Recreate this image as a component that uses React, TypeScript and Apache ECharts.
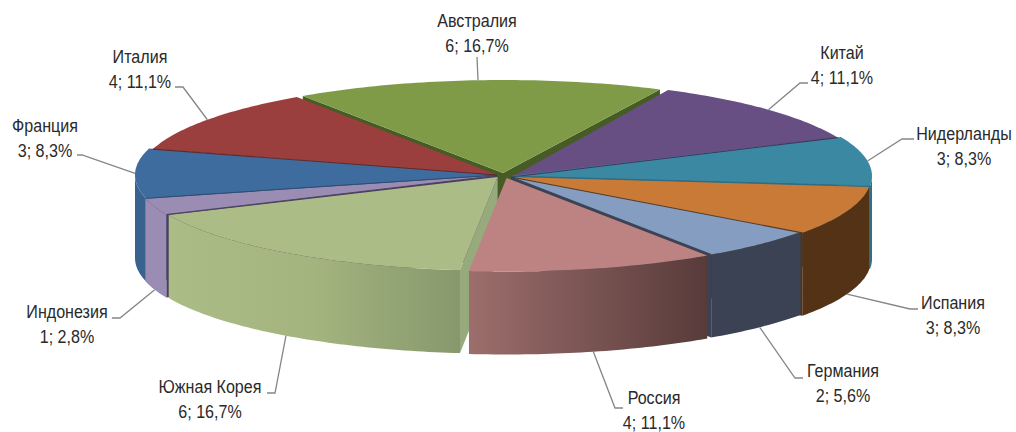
import React, { useEffect, useRef } from "react";
import * as echarts from "echarts";

const COUNTRIES = ["Австралия", "Китай", "Нидерланды", "Испания", "Германия", "Россия", "Южная Корея", "Индонезия", "Франция", "Италия"];
const COUNTS = [6, 4, 3, 3, 2, 4, 6, 1, 3, 4];

// Presentation
const TOP_COLORS = ["#7f9b47", "#674f83", "#3b88a2", "#c97a37", "#859dc1", "#bd8282", "#abbc87", "#9b8cb3", "#3f6c9e", "#9a3f3d"];
const SIDE_COLORS = ["#465c24", "#3f2d55", "#2f6e84", "#533215", "#3a4254", "#57393a", "#96aa7c", "#4a3f5e", "#2c4d73", "#632523"];
const WALL_COLORS: (string | [string, string, string])[] = [
  "#465c24", "#3f2d55", "#2f6e84", "#533215", "#3a4254",
  ["#9c6e6c", "#7a5453", "#573b3a"],
  ["#abbc87", "#a3b47f", "#87986c"],
  "#9b8cb3", "#38638f", "#632523",
];
// centre x, centre y, radius x, radius y of each exploded slice
const FRAMES = [
  [503, 173, 358, 93], [511.6, 177, 357, 96.8], [511, 176, 361, 96], [511, 177, 360, 95], [511, 177, 358, 93.5],
  [506.5, 178, 359, 93.5], [497.6, 177, 360, 93.6], [497, 175.5, 362, 96], [497, 175, 362, 96], [497, 175, 358, 94],
];
// elbow point next to the label, then the label's centre
const LABEL_LAYOUT = [
  { elbow: [477, 57], end: [477, 57], cx: 477, y: 21 },
  { elbow: [800, 83], end: [808, 83], cx: 842, y: 53 },
  { elbow: [902, 139], end: [914, 139], cx: 964, y: 134 },
  { elbow: [910, 309], end: [918, 309], cx: 953, y: 303 },
  { elbow: [795, 378], end: [803, 378], cx: 843, y: 371 },
  { elbow: [615, 408], end: [623, 408], cx: 654, y: 398 },
  { elbow: [275, 393], end: [267, 393], cx: 210, y: 387 },
  { elbow: [120, 318], end: [112, 318], cx: 67, y: 312 },
  { elbow: [82, 155], end: [77, 155], cx: 45, y: 126 },
  { elbow: [183, 87], end: [175, 87], cx: 140, y: 57 },
];
const DRAW_ORDER = [0, 1, 9, 2, 8, 3, 7, 4, 6, 5];
const START_ANGLE = -124;
const DEPTH = 83;
const LINE_GAP = 24.5;

const TOTAL = COUNTS.reduce((a, b) => a + b, 0);
const RAD = Math.PI / 180;
const formatLine = (v: number) => `${v}; ${((v / TOTAL) * 100).toFixed(1).replace(".", ",")}%`;

function sliceAngles(i: number) {
  const before = COUNTS.slice(0, i).reduce((a, b) => a + b, 0);
  const a0 = START_ANGLE + (before / TOTAL) * 360;
  const a1 = a0 + (COUNTS[i] / TOTAL) * 360;
  return [a0, a1];
}

function rim(i: number, deg: number, drop = 0): number[] {
  const [cx, cy, rx, ry] = FRAMES[i];
  return [cx + rx * Math.cos(deg * RAD), cy + ry * Math.sin(deg * RAD) + drop];
}

function rimPoints(i: number, a0: number, a1: number, drop = 0): number[][] {
  const pts: number[][] = [];
  const steps = Math.max(1, Math.ceil(a1 - a0));
  for (let k = 0; k <= steps; k++) pts.push(rim(i, a0 + ((a1 - a0) * k) / steps, drop));
  return pts;
}

function renderSlice(params: any) {
  const i = params.dataIndex;
  const [a0, a1] = sliceAngles(i);
  const [cx, cy] = FRAMES[i];
  const rank = DRAW_ORDER.indexOf(i) * 10;
  const children: any[] = [];
  const poly = (points: number[][], fill: any, z2: number) => ({
    type: "polygon",
    z2,
    shape: { points },
    style: { fill, stroke: null },
  });

  // radial faces turned towards the viewer
  const side = SIDE_COLORS[i];
  const frontFaces: number[] = [];
  if (Math.cos(a0 * RAD) < 0) frontFaces.push(a0);
  if (Math.cos(a1 * RAD) > 0) frontFaces.push(a1);
  frontFaces.forEach((a) => {
    children.push(poly([[cx, cy], rim(i, a), rim(i, a, DEPTH), [cx, cy + DEPTH]], side, rank + 1));
  });

  // outer wall: the part of the rim in front (0..180 degrees, any turn)
  [0, 360].forEach((turn) => {
    const w0 = Math.max(a0, turn);
    const w1 = Math.min(a1, turn + 180);
    if (w1 > w0) {
      const wall = WALL_COLORS[i];
      const fill = Array.isArray(wall)
        ? new echarts.graphic.LinearGradient(0, 0, 1, 0, [
            { offset: 0, color: wall[0] },
            { offset: 0.5, color: wall[1] },
            { offset: 1, color: wall[2] },
          ])
        : wall;
      const upper = rimPoints(i, w0, w1);
      const lower = rimPoints(i, w0, w1, DEPTH).reverse();
      children.push(poly([...upper, ...lower], fill, rank + 2));
    }
  });

  // top surface
  children.push(poly([[cx, cy], ...rimPoints(i, a0, a1)], TOP_COLORS[i], rank + 3));

  // dark seams along the edges
  frontFaces.forEach((a) => {
    children.push({
      type: "line",
      z2: 200,
      shape: { x1: cx, y1: cy, x2: rim(i, a)[0], y2: rim(i, a)[1] },
      style: { stroke: side, lineWidth: 1.1, opacity: i === 0 || i === 6 ? 0 : 0.9 },
    });
  });

  // leader line, anchored on the slice's mid angle
  const mid = (a0 + a1) / 2;
  const sinMid = Math.sin(mid * RAD);
  const anchor = rim(i, mid, sinMid > 0.1 ? DEPTH : 0);
  const layout = LABEL_LAYOUT[i];
  children.push({
    type: "polyline",
    z2: 300,
    shape: { points: [anchor, layout.elbow, layout.end] },
    style: { stroke: "#868686", lineWidth: 1.3, fill: null },
  });

  // label
  const textStyle = { fill: "#2a2a2a", font: '18.5px "Liberation Sans", Arial, sans-serif', align: "center", verticalAlign: "middle" };
  children.push({
    type: "text",
    z2: 310,
    x: layout.cx,
    y: layout.y,
    scaleX: 0.87,
    style: { ...textStyle, text: COUNTRIES[i], x: 0, y: 0 },
  });
  children.push({
    type: "text",
    z2: 310,
    x: layout.cx,
    y: layout.y + LINE_GAP,
    scaleX: 0.87,
    style: { ...textStyle, text: formatLine(COUNTS[i]), x: 0, y: 0 },
  });

  return { type: "group", children };
}

export default function App() {
  const ref = useRef<HTMLDivElement>(null);
  useEffect(() => {
    const chart = echarts.init(ref.current!, undefined, { renderer: "svg" });
    chart.setOption({
      animation: false,
      backgroundColor: "#ffffff",
      series: [
        {
          type: "custom",
          coordinateSystem: "none",
          silent: true,
          renderItem: renderSlice,
          data: COUNTRIES.map((name, i) => ({ name, value: COUNTS[i] })),
        },
      ],
    });
    return () => chart.dispose();
  }, []);
  return <div ref={ref} style={{ position: "absolute", left: 0, top: 0, width: 1016, height: 432 }} />;
}
